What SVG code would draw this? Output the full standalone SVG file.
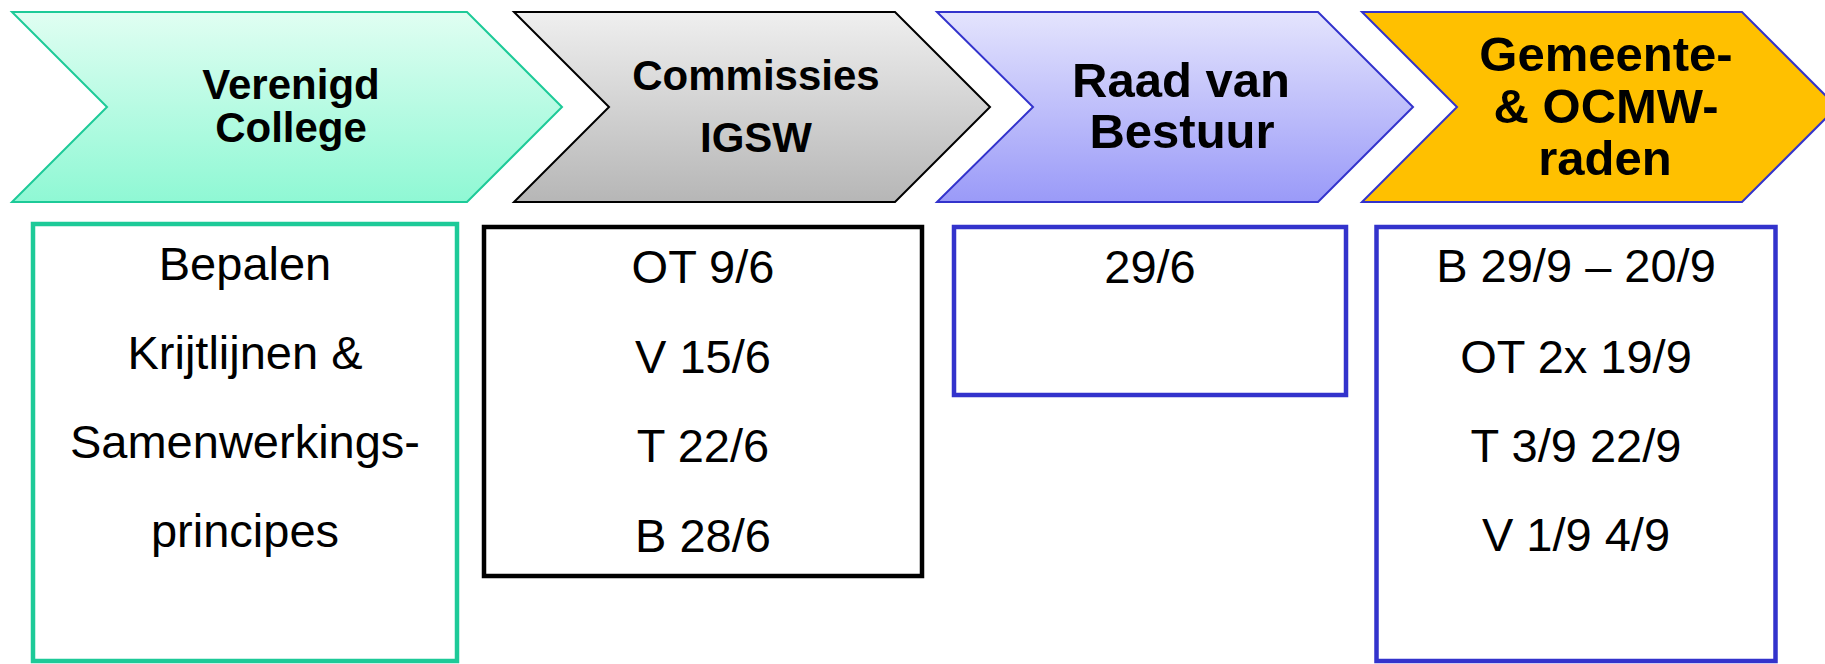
<svg xmlns="http://www.w3.org/2000/svg" width="1825" height="664" viewBox="0 0 1825 664">
<defs>
  <linearGradient id="gGreen" x1="0" y1="0" x2="0" y2="1">
    <stop offset="0" stop-color="#e0fef2"/>
    <stop offset="1" stop-color="#8ff8d4"/>
  </linearGradient>
  <linearGradient id="gGrey" x1="0" y1="0" x2="0" y2="1">
    <stop offset="0" stop-color="#efefef"/>
    <stop offset="1" stop-color="#b6b6b6"/>
  </linearGradient>
  <linearGradient id="gBlue" x1="0" y1="0" x2="0" y2="1">
    <stop offset="0" stop-color="#e4e4fd"/>
    <stop offset="1" stop-color="#9a9af8"/>
  </linearGradient>
</defs>
<style>
  .chev { stroke-width: 2; stroke-linejoin: miter; }
  .box { fill: #ffffff; stroke-width: 4.5; }
  .head { font-family: "Liberation Sans", Arial, sans-serif; font-weight: bold; fill: #000000; text-anchor: middle; }
  .body { font-family: "Liberation Sans", Arial, sans-serif; font-size: 47px; fill: #000000; text-anchor: middle; }
</style>
<rect x="0" y="0" width="1825" height="664" fill="#ffffff"/>

<g id="verenigd-college">
  <polygon class="chev" points="12,12 467,12 562,107 467,202 12,202 107,107" fill="url(#gGreen)" stroke="#1dca98"/>
  <text class="head" font-size="42" x="291" y="99">Verenigd</text>
  <text class="head" font-size="42" x="291" y="142">College</text>
</g>

<g id="commissies-igsw">
  <polygon class="chev" points="514,12 895,12 990,107 895,202 514,202 609,107" fill="url(#gGrey)" stroke="#000000"/>
  <text class="head" font-size="42" x="756" y="90">Commissies</text>
  <text class="head" font-size="42" x="756" y="152">IGSW</text>
</g>

<g id="raad-van-bestuur">
  <polygon class="chev" points="937,12 1318,12 1413,107 1318,202 937,202 1033,107" fill="url(#gBlue)" stroke="#3333cc"/>
  <text class="head" font-size="49" x="1181" y="97">Raad van</text>
  <text class="head" font-size="49" x="1182" y="148">Bestuur</text>
</g>

<g id="gemeente-ocmw-raden">
  <polygon class="chev" points="1362,12 1742,12 1837,107 1742,202 1362,202 1457,107" fill="#ffc000" stroke="#3333cc"/>
  <text class="head" font-size="49" x="1606" y="71">Gemeente-</text>
  <text class="head" font-size="49" x="1606" y="123">&amp; OCMW-</text>
  <text class="head" font-size="49" x="1605" y="175">raden</text>
</g>

<g id="box-verenigd-college">
  <rect class="box" x="33" y="224" width="424" height="437" stroke="#1dca98"/>
  <text class="body" x="245" y="280">Bepalen</text>
  <text class="body" x="245" y="369">Krijtlijnen &amp;</text>
  <text class="body" x="245" y="458">Samenwerkings-</text>
  <text class="body" x="245" y="547">principes</text>
</g>

<g id="box-commissies-igsw">
  <rect class="box" x="484" y="227" width="438" height="349" stroke="#000000"/>
  <text class="body" x="703" y="283">OT 9/6</text>
  <text class="body" x="703" y="373">V 15/6</text>
  <text class="body" x="703" y="462">T 22/6</text>
  <text class="body" x="703" y="552">B 28/6</text>
</g>

<g id="box-raad-van-bestuur">
  <rect class="box" x="954" y="227" width="392" height="168" stroke="#3333cc"/>
  <text class="body" x="1150" y="283">29/6</text>
</g>

<g id="box-gemeente-ocmw-raden">
  <rect class="box" x="1376.5" y="227" width="399" height="434" stroke="#3333cc"/>
  <text class="body" x="1576" y="282">B 29/9 – 20/9</text>
  <text class="body" x="1576" y="373">OT 2x 19/9</text>
  <text class="body" x="1576" y="462">T 3/9 22/9</text>
  <text class="body" x="1576" y="551">V 1/9 4/9</text>
</g>

<g id="connectors"></g>
</svg>
